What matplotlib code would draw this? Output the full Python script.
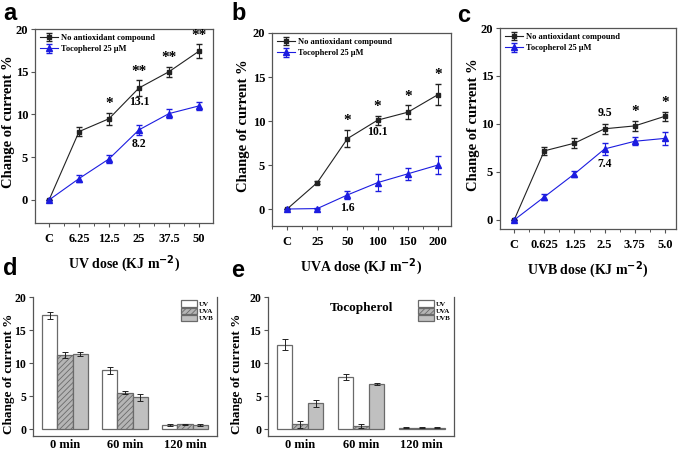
import numpy as np
import matplotlib.pyplot as plt
from matplotlib.ticker import MultipleLocator

plt.rcParams['font.family'] = 'Liberation Serif'
plt.rcParams['font.weight'] = 'bold'
plt.rcParams['hatch.color'] = '#8a8a8a'
plt.rcParams['hatch.linewidth'] = 0.6

# Panel a - UV
uv_doses = ['C', '6.25', '12.5', '25', '37.5', '50']
uv_ctrl = [0, 8.0, 9.5, 13.1, 15.0, 17.4]
uv_ctrl_err = [0, 0.5, 0.7, 0.9, 0.6, 0.8]
uv_toco = [0, 2.5, 4.8, 8.2, 10.1, 11.0]
uv_toco_err = [0, 0.4, 0.5, 0.6, 0.5, 0.5]
uv_stars = ['', '', '*', '**', '**', '**']

# Panel b - UVA
uva_doses = ['C', '25', '50', '100', '150', '200']
uva_ctrl = [0, 3.0, 8.0, 10.1, 11.0, 13.0]
uva_ctrl_err = [0, 0.2, 1.0, 0.5, 0.8, 1.2]
uva_toco = [0, 0.05, 1.6, 3.0, 4.0, 5.0]
uva_toco_err = [0, 0.05, 0.5, 1.0, 0.7, 1.0]
uva_stars = ['', '', '*', '*', '*', '*']

# Panel c - UVB
uvb_doses = ['C', '0.625', '1.25', '2.5', '3.75', '5.0']
uvb_ctrl = [0, 7.2, 8.0, 9.5, 9.8, 10.8]
uvb_ctrl_err = [0, 0.4, 0.5, 0.5, 0.5, 0.5]
uvb_toco = [0, 2.4, 4.8, 7.4, 8.2, 8.5]
uvb_toco_err = [0, 0.3, 0.3, 0.6, 0.4, 0.7]
uvb_stars = ['', '', '', '', '*', '*']

# Panels d/e - time course
times = ['0 min', '60 min', '120 min']
d_uv = [17.2, 8.9, 0.6]
d_uv_err = [0.6, 0.5, 0.1]
d_uva = [11.2, 5.5, 0.7]
d_uva_err = [0.4, 0.2, 0.1]
d_uvb = [11.4, 4.8, 0.6]
d_uvb_err = [0.3, 0.5, 0.1]
e_uv = [12.8, 7.9, 0.2]
e_uv_err = [0.8, 0.4, 0.1]
e_uva = [0.7, 0.5, 0.2]
e_uva_err = [0.5, 0.3, 0.1]
e_uvb = [3.9, 6.8, 0.2]
e_uvb_err = [0.5, 0.2, 0.1]

W, H = 685, 453
fig = plt.figure(figsize=(W / 100, H / 100), dpi=100)


def box(l, t, r, b):
    return [l / W, 1 - b / H, (r - l) / W, (b - t) / H]


def style_spines(ax):
    for s in ax.spines.values():
        s.set_color('#555555')
        s.set_linewidth(0.9)


def line_panel(pos, labels, ctrl, ctrl_err, toco, toco_err, stars, xlab, ylim,
               xlim, notes, ylab_x):
    ax = fig.add_axes(box(*pos))
    x = np.arange(len(labels))
    ax.errorbar(x, ctrl, yerr=ctrl_err, color='#222222', lw=0.8, marker='s',
                ms=3.5, capsize=2, elinewidth=0.8, label='No antioxidant compound')
    ax.errorbar(x, toco, yerr=toco_err, color='#1c1ce0', lw=0.8, marker='^',
                ms=4.5, capsize=2, elinewidth=0.8, ecolor='#1c1ce0',
                label='Tocopherol 25 μM')
    for i, s in enumerate(stars):
        if s:
            ax.text(x[i], ctrl[i] + ctrl_err[i] + 0.3, s, ha='center',
                    va='bottom', fontsize=11, fontweight='bold')
    for xi, yi, t in notes:
        ax.text(xi, yi, t, ha='center', va='center', fontsize=8.5,
                fontweight='bold')
    ax.set_xlim(*xlim)
    ax.set_ylim(*ylim)
    ax.set_xticks(x)
    ax.set_xticklabels(labels)
    ax.xaxis.set_minor_locator(MultipleLocator(0.5))
    ax.set_yticks([0, 5, 10, 15, 20])
    ax.tick_params(direction='out', length=3, width=0.8, labelsize=9,
                   color='#555555', pad=2)
    ax.tick_params(axis='x', pad=4)
    ax.tick_params(which='minor', direction='out', length=2, width=0.7,
                   color='#555555')
    ax.set_xlabel(xlab, fontsize=10, fontweight='bold', labelpad=6)
    ax.set_ylabel('Change of current %', fontsize=10.5, fontweight='bold')
    ax.yaxis.set_label_coords(ylab_x, 0.52)
    ax.legend(loc='upper left', fontsize=6, frameon=False,
              handlelength=2.2, borderaxespad=0.2, labelspacing=0.4,
              handletextpad=0.3)
    style_spines(ax)
    return ax


line_panel((35, 29, 213, 223), uv_doses, uv_ctrl, uv_ctrl_err, uv_toco,
           uv_toco_err, uv_stars, 'UV dose (KJ m$^{\\mathbf{-2}}$)',
           (-2.7, 20), (-0.47, 5.47), [(3, 11.4, '13.1'), (3, 6.6, '8.2')],
           -0.11)
line_panel((272, 33, 451, 226), uva_doses, uva_ctrl, uva_ctrl_err, uva_toco,
           uva_toco_err, uva_stars, 'UVA dose (KJ m$^{\\mathbf{-2}}$)',
           (-1.93, 20), (-0.5, 5.43), [(3, 8.7, '10.1'), (2, 0.1, '1.6')],
           -0.123)
line_panel((500, 28, 676, 229), uvb_doses, uvb_ctrl, uvb_ctrl_err, uvb_toco,
           uvb_toco_err, uvb_stars, 'UVB dose (KJ m$^{\\mathbf{-2}}$)',
           (-0.94, 20), (-0.47, 5.37), [(3, 11.1, '9.5'), (3, 5.8, '7.4')],
           -0.114)


def bar_panel(pos, uv, uv_err, uva, uva_err, uvb, uvb_err, ylab_x, title=None):
    ax = fig.add_axes(box(*pos))
    x = np.arange(len(times))
    w = 0.255
    kw = dict(width=w, edgecolor='#6a6a6a', linewidth=0.9, capsize=2,
              error_kw=dict(elinewidth=0.7, capthick=0.7, ecolor='#222222'))
    ax.bar(x - w, uv, yerr=uv_err, color='white', label='UV', **kw)
    ax.bar(x, uva, yerr=uva_err, color='#b5b5b5', hatch='//////', label='UVA',
           **kw)
    ax.bar(x + w, uvb, yerr=uvb_err, color='#c0c0c0', label='UVB', **kw)
    ax.set_xlim(-0.53, 2.53)
    ax.set_ylim(-1.06, 20)
    ax.set_xticks(x)
    ax.set_xticklabels(times)
    ax.set_yticks([0, 5, 10, 15, 20])
    ax.tick_params(axis='x', length=0, labelsize=9, pad=2)
    ax.tick_params(axis='y', direction='out', length=3, width=0.8,
                   labelsize=8.5, color='#555555', pad=2)
    ax.set_ylabel('Change of current %', fontsize=9.5, fontweight='bold')
    ax.yaxis.set_label_coords(ylab_x, 0.45)
    ax.legend(loc='upper right', fontsize=5, frameon=False, handlelength=2.2,
              handleheight=1.1, borderaxespad=0.1, labelspacing=0.05,
              handletextpad=0.3)
    if title:
        ax.text(0.5, 0.92, title, transform=ax.transAxes, ha='center',
                va='center', fontsize=9.5, fontweight='bold')
    style_spines(ax)
    ax.spines['top'].set_visible(False)
    return ax


bar_panel((33, 297, 217, 436), d_uv, d_uv_err, d_uva, d_uva_err, d_uvb,
          d_uvb_err, -0.098)
bar_panel((268, 297, 454, 436), e_uv, e_uv_err, e_uva, e_uva_err, e_uvb,
          e_uvb_err, -0.134, title='Tocopherol')

for lab, px, py in [('a', 3, 2), ('b', 231, 2), ('c', 457, 4),
                    ('d', 3, 257), ('e', 231, 259)]:
    fig.text(px / W, 1 - py / H, lab, ha='left', va='top', fontsize=17,
             fontweight='bold', family='Liberation Sans')

fig.savefig('out.png', dpi=100)
